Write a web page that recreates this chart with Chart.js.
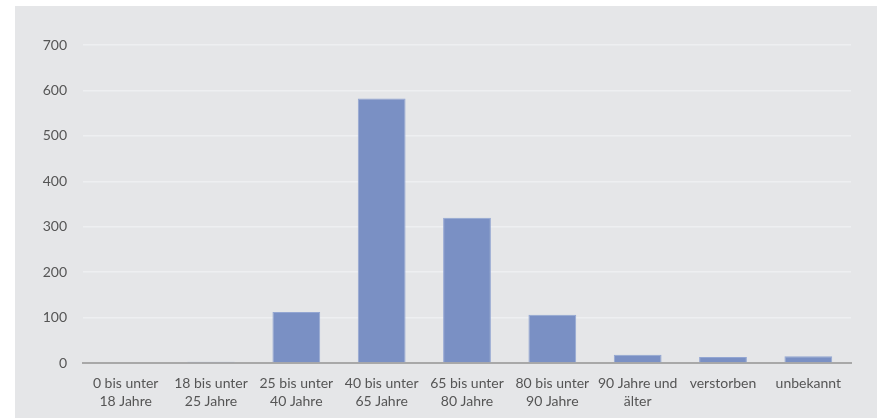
<!DOCTYPE html>
<html lang="de">
<head>
<meta charset="utf-8">
<script src="https://cdn.jsdelivr.net/npm/chart.js@4"></script>
<style>
  html, body { margin: 0; padding: 0; background: #ffffff; }
  #wrap {
    position: absolute;
    left: 15px;
    top: 6px;
    width: 862px;
    height: 412px;
    background: #e5e6e8;
  }
</style>
</head>
<body>
<div id="wrap"><canvas id="myChart"></canvas></div>
<script>
// age groups (two-line labels)
const categories = [
  ['0 bis unter', '18 Jahre'],
  ['18 bis unter', '25 Jahre'],
  ['25 bis unter', '40 Jahre'],
  ['40 bis unter', '65 Jahre'],
  ['65 bis unter', '80 Jahre'],
  ['80 bis unter', '90 Jahre'],
  ['90 Jahre und', 'älter'],
  'verstorben',
  'unbekannt',
];

// counts per group
const values = [0, 3, 112, 582, 320, 106, 18, 13, 15];

// y axis ticks
const yTicks = [0, 100, 200, 300, 400, 500, 600, 700];

const font = { family: 'Lato, "Noto Sans", sans-serif', size: 14, lineHeight: 1.3 };

let ctx = document.getElementById('myChart').getContext('2d');

const chart = new Chart(ctx, {
  type: 'bar',
  data: {
    labels: categories,
    datasets: [
      {
        data: values,
        backgroundColor: '#7a90c4',
        borderColor: '#93a6d2',
        borderWidth: 1,
        categoryPercentage: 1,
        barPercentage: 0.56,
      },
    ],
  },
  options: {
    responsive: true,
    maintainAspectRatio: false,
    animation: false,
    layout: { padding: { left: 0, right: 26, top: 39, bottom: 0 } },
    plugins: {
      legend: { display: false },
      tooltip: { enabled: false },
    },
    scales: {
      x: {
        grid: { display: false, drawTicks: false },
        border: { display: true, color: '#a8a8a8', width: 2 },
        ticks: {
          color: '#555555',
          font,
          padding: 11,
          maxRotation: 0,
          autoSkip: false,
        },
        afterFit: (scale) => { scale.height = 55; },
      },
      y: {
        min: 0,
        max: 700,
        afterBuildTicks: (scale) => {
          scale.ticks = yTicks.map((v) => ({ value: v }));
        },
        grid: { color: '#eeeff1', lineWidth: 1.5, drawTicks: false },
        border: { display: false },
        ticks: { color: '#555555', font, padding: 16 },
        afterFit: (scale) => { scale.width = 68; },
      },
    },
  },
});
</script>
</body>
</html>
